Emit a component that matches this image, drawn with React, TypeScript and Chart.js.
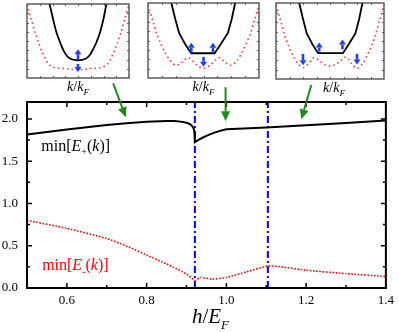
import React, { useEffect, useRef } from "react";
import { Chart, registerables } from "chart.js";

Chart.register(...registerables);

const SERIF = "'Liberation Serif', 'Times New Roman', serif";

// ---------- main panel data ----------
const hPlus = [0.5, 0.55, 0.6, 0.65, 0.7, 0.75, 0.8, 0.85, 0.87, 0.89, 0.9, 0.906, 0.911, 0.915, 0.918, 0.92, 0.921, 0.93, 0.94, 0.95, 0.96, 0.97, 0.98, 0.99, 1.0, 1.1, 1.2, 1.3, 1.4];
const ePlus = [1.815, 1.845, 1.874, 1.902, 1.929, 1.95, 1.966, 1.975, 1.975, 1.965, 1.955, 1.945, 1.93, 1.91, 1.885, 1.84, 1.725, 1.752, 1.777, 1.8, 1.82, 1.838, 1.853, 1.867, 1.878, 1.898, 1.925, 1.953, 1.98];
const hMinus = [0.5, 0.6, 0.7, 0.75, 0.8, 0.85, 0.9, 0.921, 0.935, 0.965, 1.0, 1.05, 1.104, 1.13, 1.2, 1.3, 1.4];
const eMinus = [0.8, 0.705, 0.585, 0.495, 0.39, 0.285, 0.165, 0.09, 0.125, 0.105, 0.125, 0.19, 0.26, 0.255, 0.21, 0.17, 0.135];
const transitionH = [0.921, 1.104];
const xTickLabels = [0.6, 0.8, 1.0, 1.2, 1.4];
const xMinorTicks = [0.7, 0.9, 1.1, 1.3];
const yTickLabels = [0, 0.5, 1.0, 1.5, 2.0];
const yMinorTicks = [0.25, 0.75, 1.25, 1.75];
const xRange = [0.5, 1.4];
const yRange = [0, 2.2];

// green pointer arrows (data coordinates of main panel)
const pointerTailH = [0.716, 0.998, 1.213];
const pointerTailE = [2.42, 2.374, 2.4];
const pointerTipH = [0.748, 0.998, 1.188];
const pointerTipE = [2.02, 1.972, 1.996];

// ---------- inset data (k/kF in [-1,1], energy in frame units [0,1]) ----------
const inset1PlusK = [-0.64, -0.56, -0.49, -0.42, -0.35, -0.29, -0.22, -0.15, -0.07, 0, 0.07, 0.15, 0.22, 0.29, 0.36, 0.43, 0.5, 0.56, 0.64];
const inset1PlusE = [1.15, 1.0, 0.8, 0.61, 0.48, 0.38, 0.3, 0.26, 0.245, 0.24, 0.245, 0.26, 0.3, 0.38, 0.48, 0.61, 0.8, 1.0, 1.15];
const inset1MinusK = [-1, -0.92, -0.84, -0.77, -0.71, -0.64, -0.58, -0.5, -0.4, -0.3, -0.2, -0.1, 0, 0.1, 0.2, 0.3, 0.4, 0.5, 0.58, 0.64, 0.71, 0.77, 0.84, 0.92, 1];
const inset1MinusE = [0.99, 0.8, 0.61, 0.47, 0.36, 0.26, 0.19, 0.15, 0.135, 0.13, 0.125, 0.115, 0.11, 0.115, 0.125, 0.13, 0.135, 0.15, 0.19, 0.26, 0.36, 0.47, 0.61, 0.8, 0.99];
const inset1SpinK = [0, 0];
const inset1SpinFrom = [0.25, 0.19];
const inset1SpinTo = [0.39, 0.08];

const inset2PlusK = [-0.64, -0.58, -0.51, -0.44, -0.33, -0.22, 0.2, 0.31, 0.44, 0.51, 0.57, 0.63];
const inset2PlusE = [1.15, 1.0, 0.79, 0.6, 0.45, 0.33, 0.33, 0.45, 0.6, 0.79, 1.0, 1.15];
const inset2MinusK = [-1, -0.92, -0.85, -0.77, -0.7, -0.6, -0.5, -0.4, -0.33, -0.27, -0.2, -0.12, 0, 0.12, 0.2, 0.27, 0.33, 0.4, 0.5, 0.6, 0.7, 0.77, 0.85, 0.92, 1];
const inset2MinusE = [0.97, 0.78, 0.6, 0.46, 0.35, 0.23, 0.17, 0.2, 0.25, 0.27, 0.23, 0.17, 0.13, 0.17, 0.23, 0.27, 0.25, 0.2, 0.17, 0.23, 0.35, 0.46, 0.6, 0.78, 0.97];
const inset2SpinK = [-0.22, 0.17, 0];
const inset2SpinFrom = [0.34, 0.34, 0.28];
const inset2SpinTo = [0.47, 0.47, 0.15];

const inset3PlusK = [-0.63, -0.57, -0.5, -0.43, -0.32, -0.22, 0.24, 0.35, 0.47, 0.54, 0.6, 0.66];
const inset3PlusE = [1.15, 1.0, 0.79, 0.6, 0.45, 0.34, 0.34, 0.46, 0.6, 0.79, 1.0, 1.15];
const inset3MinusK = [-1, -0.92, -0.85, -0.77, -0.68, -0.58, -0.49, -0.4, -0.3, -0.2, -0.1, 0, 0.1, 0.2, 0.3, 0.4, 0.5, 0.59, 0.68, 0.77, 0.85, 0.92, 1];
const inset3MinusE = [0.97, 0.78, 0.6, 0.44, 0.3, 0.19, 0.15, 0.2, 0.28, 0.24, 0.19, 0.17, 0.19, 0.24, 0.29, 0.2, 0.14, 0.19, 0.3, 0.44, 0.6, 0.78, 0.97];
const inset3SpinK = [-0.2, 0.23, -0.5, 0.5];
const inset3SpinFrom = [0.36, 0.39, 0.33, 0.33];
const inset3SpinTo = [0.48, 0.52, 0.18, 0.19];

const insetTickK = [-0.75, -0.5, -0.25, 0, 0.25, 0.5, 0.75];
const insetTickE = [0.125, 0.25, 0.375, 0.5, 0.625, 0.75, 0.875];

type Part = { t: string; italic?: boolean; sub?: boolean };

function drawRich(ctx: CanvasRenderingContext2D, x: number, y: number, parts: Part[], size: number, color: string, align: "left" | "center" = "left") {
  ctx.save();
  ctx.fillStyle = color;
  ctx.textBaseline = "alphabetic";
  ctx.textAlign = "left";
  const fontOf = (p: Part) => `${p.italic ? "italic " : ""}${p.sub ? Math.round(size * 0.62) : size}px ${SERIF}`;
  let total = 0;
  for (const p of parts) {
    ctx.font = fontOf(p);
    total += ctx.measureText(p.t).width;
  }
  let cx = align === "center" ? x - total / 2 : x;
  for (const p of parts) {
    ctx.font = fontOf(p);
    ctx.fillText(p.t, cx, p.sub ? y + size * 0.28 : y);
    cx += ctx.measureText(p.t).width;
  }
  ctx.restore();
}

function arrow(ctx: CanvasRenderingContext2D, x0: number, y0: number, x1: number, y1: number, color: string, lw: number, headLen: number, headHalf: number) {
  const ang = Math.atan2(y1 - y0, x1 - x0);
  const bx = x1 - headLen * Math.cos(ang);
  const by = y1 - headLen * Math.sin(ang);
  ctx.save();
  ctx.strokeStyle = color;
  ctx.fillStyle = color;
  ctx.lineWidth = lw;
  ctx.setLineDash([]);
  ctx.beginPath();
  ctx.moveTo(x0, y0);
  ctx.lineTo(bx, by);
  ctx.stroke();
  ctx.beginPath();
  ctx.moveTo(x1, y1);
  ctx.lineTo(bx + headHalf * Math.sin(ang), by - headHalf * Math.cos(ang));
  ctx.lineTo(bx - headHalf * Math.sin(ang), by + headHalf * Math.cos(ang));
  ctx.closePath();
  ctx.fill();
  ctx.restore();
}

const zip = (xs: number[], ys: number[]) => xs.map((x, i) => ({ x, y: ys[i] }));

const mainDecor = {
  id: "mainDecor",
  afterDraw(chart: any) {
    const { ctx, chartArea: a, scales } = chart;
    const sx = scales.x;
    const sy = scales.y;
    ctx.save();
    ctx.strokeStyle = "#000";
    ctx.lineWidth = 1.5;
    const vt = (vals: number[], len: number) => {
      for (const v of vals) {
        const px = sx.getPixelForValue(v);
        ctx.beginPath();
        ctx.moveTo(px, a.bottom);
        ctx.lineTo(px, a.bottom - len);
        ctx.moveTo(px, a.top);
        ctx.lineTo(px, a.top + len);
        ctx.stroke();
      }
    };
    const ht = (vals: number[], len: number) => {
      for (const v of vals) {
        const py = sy.getPixelForValue(v);
        ctx.beginPath();
        ctx.moveTo(a.left, py);
        ctx.lineTo(a.left + len, py);
        ctx.moveTo(a.right, py);
        ctx.lineTo(a.right - len, py);
        ctx.stroke();
      }
    };
    vt(xTickLabels, 5);
    vt(xMinorTicks, 3);
    ht(yTickLabels, 5);
    ht(yMinorTicks, 3);
    ctx.lineWidth = 2;
    ctx.strokeRect(a.left, a.top, a.right - a.left, a.bottom - a.top);
    ctx.restore();

    for (let i = 0; i < pointerTailH.length; i++) {
      arrow(
        ctx,
        sx.getPixelForValue(pointerTailH[i]),
        sy.getPixelForValue(pointerTailE[i]),
        sx.getPixelForValue(pointerTipH[i]),
        sy.getPixelForValue(pointerTipE[i]),
        "#1e8a1e",
        2,
        10,
        4.5
      );
    }

    drawRich(ctx, sx.getPixelForValue(0.536), sy.getPixelForValue(1.625), [
      { t: "min[" }, { t: "E", italic: true }, { t: "+", sub: true }, { t: "(" }, { t: "k", italic: true }, { t: ")]" },
    ], 16, "#000");
    drawRich(ctx, sx.getPixelForValue(0.538), sy.getPixelForValue(0.21), [
      { t: "min[" }, { t: "E", italic: true }, { t: "-", sub: true }, { t: "(" }, { t: "k", italic: true }, { t: ")]" },
    ], 16, "#ff0000");
    drawRich(ctx, (a.left + a.right) / 2 + 4, 323, [
      { t: "h", italic: true }, { t: "/" }, { t: "E", italic: true }, { t: "F", italic: true, sub: true },
    ], 21, "#000", "center");
  },
};

function MainChart() {
  const ref = useRef<HTMLCanvasElement>(null);
  useEffect(() => {
    const chart = new Chart(ref.current!, {
      type: "line",
      data: {
        datasets: [
          {
            data: zip(hPlus, ePlus),
            borderColor: "#000",
            borderWidth: 2,
            pointRadius: 0,
            tension: 0,
          },
          {
            data: zip(hMinus, eMinus),
            borderColor: "#ff0000",
            borderWidth: 1.6,
            borderDash: [1.6, 1.6],
            pointRadius: 0,
            tension: 0.15,
          },
          ...transitionH.map((h) => ({
            data: [{ x: h, y: yRange[0] }, { x: h, y: yRange[1] }],
            borderColor: "#0000ff",
            borderWidth: 2,
            borderDash: [7, 3, 2, 3],
            pointRadius: 0,
          })),
        ],
      },
      options: {
        animation: false,
        responsive: false,
        layout: { padding: { left: 0, right: 12, top: 102, bottom: 0 } },
        plugins: { legend: { display: false }, tooltip: { enabled: false } },
        scales: {
          x: {
            type: "linear",
            min: xRange[0],
            max: xRange[1],
            grid: { display: false, drawTicks: false },
            border: { display: false },
            afterBuildTicks: (s: any) => {
              s.ticks = xTickLabels.map((v) => ({ value: v }));
            },
            afterFit: (s: any) => {
              s.height = 44;
            },
            ticks: {
              callback: (v: any) => Number(v).toFixed(1),
              font: { family: SERIF, size: 13 },
              color: "#000",
              padding: 5,
              maxRotation: 0,
              autoSkip: false,
            },
          },
          y: {
            type: "linear",
            min: yRange[0],
            max: yRange[1],
            grid: { display: false, drawTicks: false },
            border: { display: false },
            afterBuildTicks: (s: any) => {
              s.ticks = yTickLabels.map((v) => ({ value: v }));
            },
            afterFit: (s: any) => {
              s.width = 27;
            },
            ticks: {
              callback: (v: any) => Number(v).toFixed(1),
              font: { family: SERIF, size: 13 },
              color: "#000",
              padding: 9,
              autoSkip: false,
            },
          },
        },
      },
      plugins: [mainDecor],
    } as any);
    return () => chart.destroy();
  }, []);
  return <canvas ref={ref} width={399} height={332} style={{ position: "absolute", left: 0, top: 0 }} />;
}

type InsetProps = {
  frame: { x: number; y: number; w: number; h: number };
  plusK: number[];
  plusE: number[];
  plusTension: number;
  minusK: number[];
  minusE: number[];
  spinK: number[];
  spinFrom: number[];
  spinTo: number[];
  labelShift: number;
};

const PAD = 3;
const LABEL_SPACE = 19;

function Inset(p: InsetProps) {
  const ref = useRef<HTMLCanvasElement>(null);
  useEffect(() => {
    const decor = {
      id: "insetDecor",
      afterDraw(chart: any) {
        const { ctx, chartArea: a, scales } = chart;
        const sx = scales.x;
        const sy = scales.y;
        ctx.save();
        ctx.strokeStyle = "#666";
        ctx.lineWidth = 1;
        for (const k of insetTickK) {
          const px = Math.round(sx.getPixelForValue(k)) + 0.5;
          ctx.beginPath();
          ctx.moveTo(px, a.top);
          ctx.lineTo(px, a.top + 2);
          ctx.moveTo(px, a.bottom);
          ctx.lineTo(px, a.bottom - 2);
          ctx.stroke();
        }
        for (const e of insetTickE) {
          const py = Math.round(sy.getPixelForValue(e)) + 0.5;
          ctx.beginPath();
          ctx.moveTo(a.left, py);
          ctx.lineTo(a.left + 2, py);
          ctx.moveTo(a.right, py);
          ctx.lineTo(a.right - 2, py);
          ctx.stroke();
        }
        ctx.strokeStyle = "#444";
        ctx.lineWidth = 1.3;
        ctx.strokeRect(a.left, a.top, a.right - a.left, a.bottom - a.top);
        ctx.restore();
        for (let i = 0; i < p.spinK.length; i++) {
          const px = sx.getPixelForValue(p.spinK[i]);
          arrow(ctx, px, sy.getPixelForValue(p.spinFrom[i]), px, sy.getPixelForValue(p.spinTo[i]), "#1f3fff", 2.6, 5, 3.5);
        }
        drawRich(ctx, (a.left + a.right) / 2 + p.labelShift, a.bottom + 13, [
          { t: "k", italic: true }, { t: "/" }, { t: "k", italic: true }, { t: "F", italic: true, sub: true },
        ], 14, "#000", "center");
      },
    };
    const chart = new Chart(ref.current!, {
      type: "line",
      data: {
        datasets: [
          {
            data: zip(p.plusK, p.plusE),
            borderColor: "#000",
            borderWidth: 1.8,
            pointRadius: 0,
            tension: p.plusTension,
          },
          {
            data: zip(p.minusK, p.minusE),
            borderColor: "#ff3b3b",
            borderWidth: 1.6,
            borderDash: [1.6, 3],
            pointRadius: 0,
            tension: 0.3,
          },
        ],
      },
      options: {
        animation: false,
        responsive: false,
        layout: { padding: { left: PAD, right: PAD, top: PAD, bottom: PAD + LABEL_SPACE } },
        plugins: { legend: { display: false }, tooltip: { enabled: false } },
        scales: {
          x: { type: "linear", min: -1, max: 1, display: false },
          y: { type: "linear", min: 0, max: 1, display: false },
        },
      },
      plugins: [decor],
    } as any);
    return () => chart.destroy();
  }, []);
  const f = p.frame;
  return (
    <canvas
      ref={ref}
      width={f.w + 2 * PAD}
      height={f.h + 2 * PAD + LABEL_SPACE}
      style={{ position: "absolute", left: f.x - PAD, top: f.y - PAD }}
    />
  );
}

export default function App() {
  return (
    <div style={{ position: "absolute", left: 0, top: 0, width: 399, height: 332, background: "#fff" }}>
      <MainChart />
      <Inset frame={{ x: 27, y: 4, w: 102, h: 74 }} plusK={inset1PlusK} plusE={inset1PlusE} plusTension={0.3} minusK={inset1MinusK} minusE={inset1MinusE} spinK={inset1SpinK} spinFrom={inset1SpinFrom} spinTo={inset1SpinTo} labelShift={0} />
      <Inset frame={{ x: 148, y: 3, w: 111, h: 75 }} plusK={inset2PlusK} plusE={inset2PlusE} plusTension={0} minusK={inset2MinusK} minusE={inset2MinusE} spinK={inset2SpinK} spinFrom={inset2SpinFrom} spinTo={inset2SpinTo} labelShift={0} />
      <Inset frame={{ x: 276, y: 3, w: 108, h: 76 }} plusK={inset3PlusK} plusE={inset3PlusE} plusTension={0} minusK={inset3MinusK} minusE={inset3MinusE} spinK={inset3SpinK} spinFrom={inset3SpinFrom} spinTo={inset3SpinTo} labelShift={4} />
    </div>
  );
}
